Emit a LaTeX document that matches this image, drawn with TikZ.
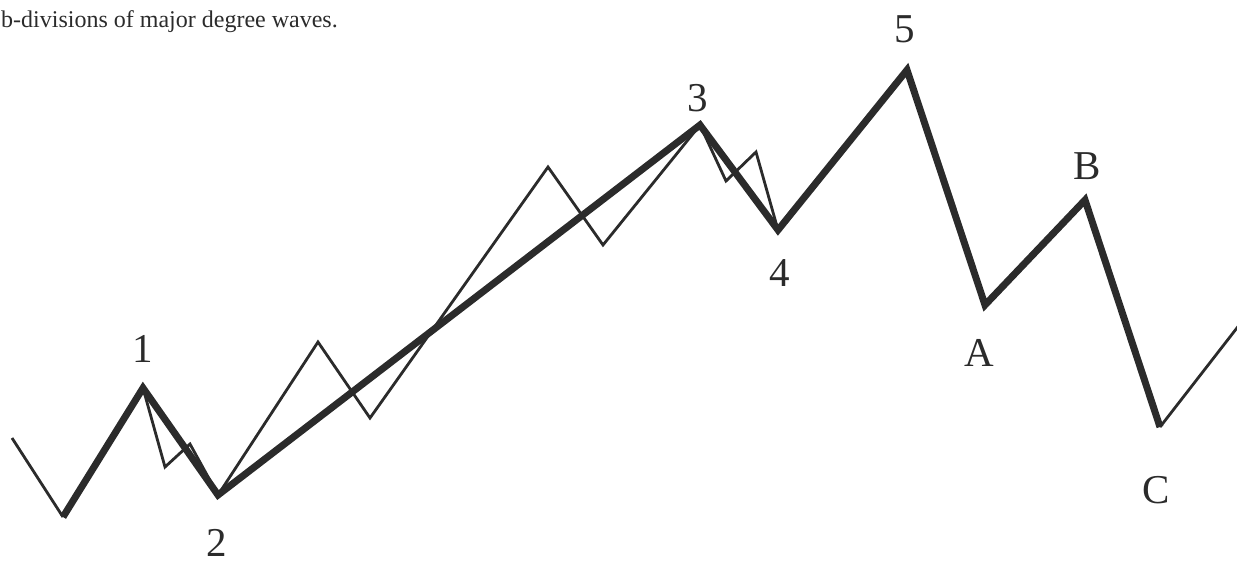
\documentclass[tikz,border=0pt]{standalone}
\usepackage{fontspec}
\setmainfont{Liberation Serif}
\definecolor{ink}{HTML}{2B2B2B}
\begin{document}
\begin{tikzpicture}[x=1pt,y=-1pt,
  thick wave/.style={draw=ink,line width=7pt,line join=miter,line cap=butt},
  thin wave/.style={draw=ink,line width=2.8pt,line join=miter},
  lbl/.style={text=ink,font=\fontsize{41}{41}\selectfont,inner sep=0pt}]
\useasboundingbox (0,0) rectangle (1237,563);
% main points
\coordinate (s) at (12,438);
\coordinate (p0) at (63,517);
\coordinate (p1) at (143,388);
\coordinate (p2) at (218,495);
\coordinate (p3) at (700,125);
\coordinate (p4) at (778,230);
\coordinate (p5) at (907,70);
\coordinate (pA) at (985,305);
\coordinate (pB) at (1085,200);
\coordinate (pC) at (1160,427);
\coordinate (e) at (1240,324);
% sub-wave points
\coordinate (a1) at (165,467);
\coordinate (a2) at (190,444);
\coordinate (b1) at (318,342);
\coordinate (b2) at (370,418);
\coordinate (b3) at (548,167);
\coordinate (b4) at (603,245);
\coordinate (c1) at (726,181);
\coordinate (c2) at (756,152);
% thin lines
\draw[thin wave] (s) -- (p0);
\draw[thin wave] (p1) -- (a1) -- (a2) -- (p2);
\draw[thin wave] (p2) -- (b1) -- (b2) -- (b3) -- (b4) -- (p3);
\draw[thin wave] (p3) -- (c1) -- (c2) -- (p4);
\draw[thin wave] (pC) -- (e);
% thick lines
\draw[thick wave] (p0) -- (p1) -- (p2) -- (p3) -- (p4) -- (p5) -- (pA) -- (pB) -- (pC);
% labels
\node[lbl] (l1) at (143,349) {1};
\node[lbl] (l2) at (217,543) {2};
\node[lbl] (l3) at (698,98) {3};
\node[lbl] (l4) at (780,273) {4};
\node[lbl] (l5) at (905,29) {5};
\node[lbl] (lA) at (979,353) {A};
\node[lbl] (lB) at (1087,166) {B};
\node[lbl] (lC) at (1156,490) {C};
\node[text=ink,font=\fontsize{24}{24}\selectfont,inner sep=0pt,anchor=base west] (title) at (1,27) {b-divisions of major degree waves.};
\end{tikzpicture}
\end{document}
